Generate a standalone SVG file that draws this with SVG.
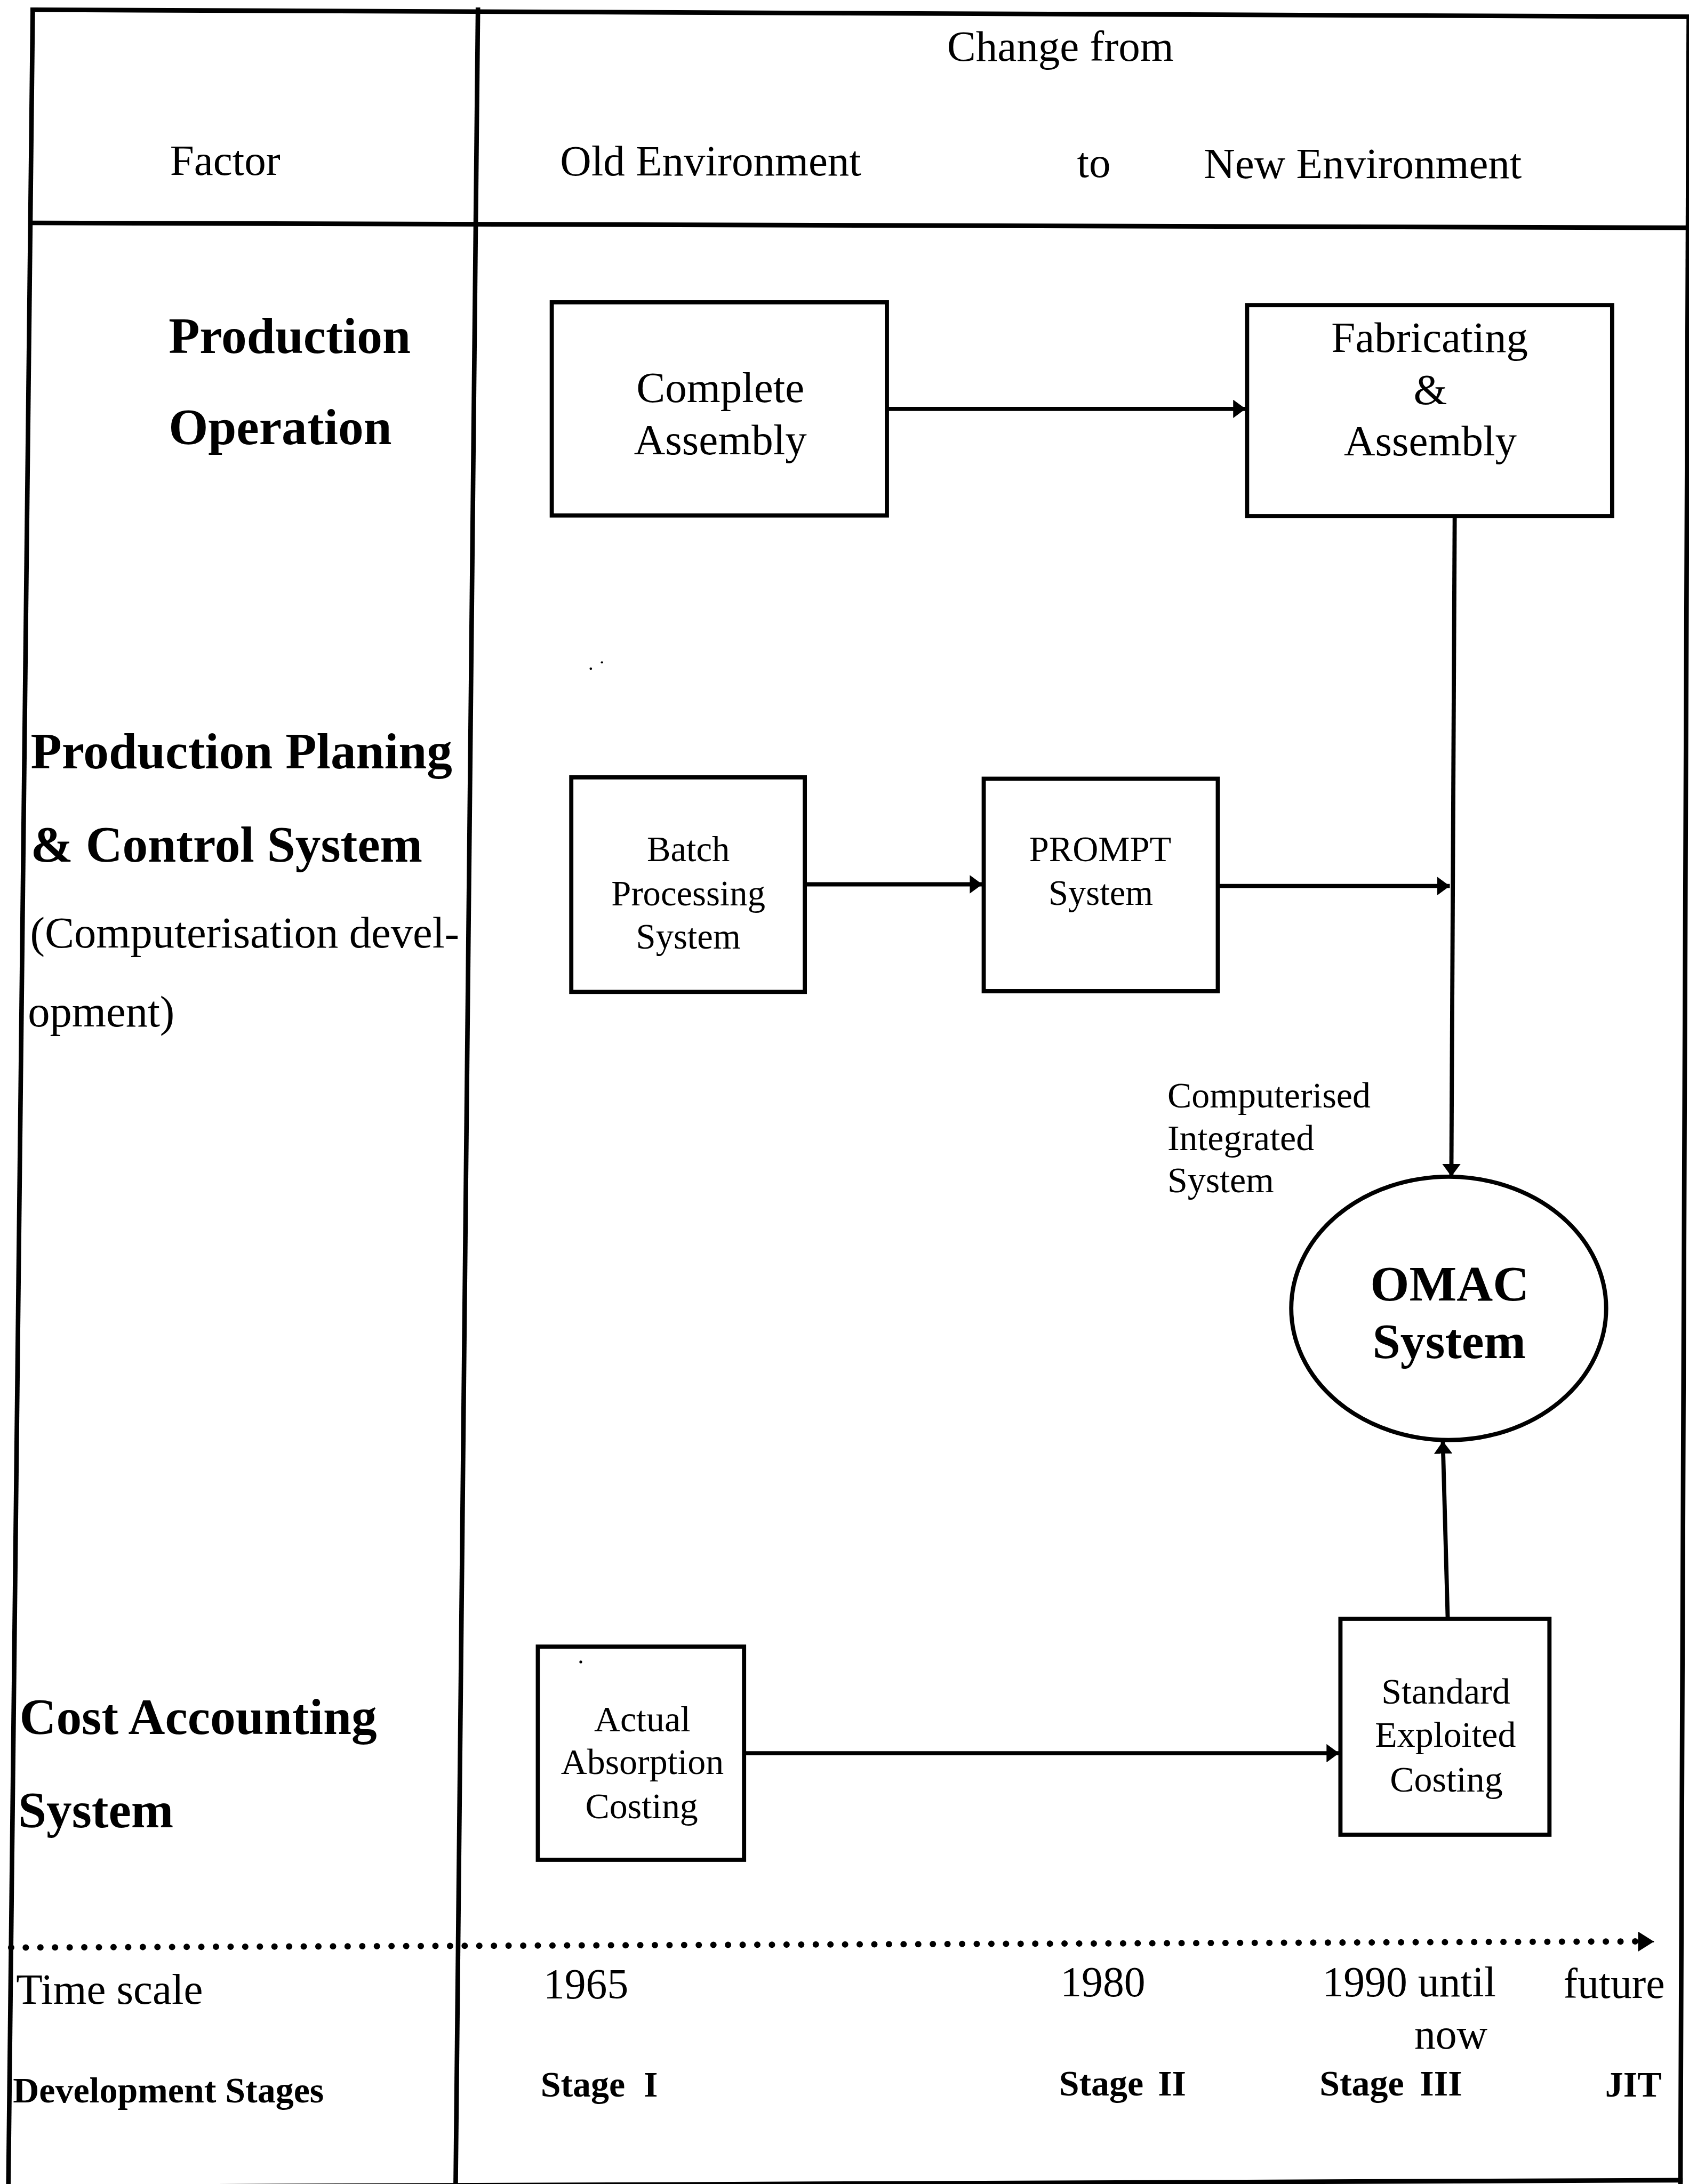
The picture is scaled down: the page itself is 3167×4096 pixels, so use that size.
<svg xmlns="http://www.w3.org/2000/svg" width="3167" height="4096" viewBox="0 0 3167 4096">
  <style>
    .frame { fill: none; stroke: #000; stroke-width: 3.3; stroke-linecap: square; }
    .box { fill: #fff; stroke: #000; stroke-width: 3; }
    .oval { fill: #fff; stroke: #000; stroke-width: 3; }
    .conn { fill: none; stroke: #000; stroke-width: 3; }
    .dots { fill: none; stroke: #000; stroke-width: 4.6; stroke-linecap: round; stroke-dasharray: 0 10.5; }
    text { font-family: "Liberation Serif", "Times New Roman", serif; fill: #000; }
    .hd { font-size: 31px; }
    .lbl { font-size: 31px; text-anchor: middle; }
    .sm { font-size: 25.5px; text-anchor: middle; }
    .md { font-size: 26px; text-anchor: middle; }
    .fac { font-size: 36.5px; font-weight: bold; }
    .sub { font-size: 31.6px; }
    .omac { font-size: 36px; font-weight: bold; text-anchor: middle; }
    .note { font-size: 26px; }
    .yr { font-size: 30.5px; }
    .stg { font-size: 26px; font-weight: bold; }
  </style>
  <defs>
    <marker id="arrow" markerUnits="userSpaceOnUse" markerWidth="9" markerHeight="13.2" viewBox="0 0 9 13.2" refX="9" refY="6.6" orient="auto">
      <path d="M0,0 L9,6.6 L0,13.2 z" fill="#000"/>
    </marker>
    <marker id="arrow-time" markerUnits="userSpaceOnUse" markerWidth="11.4" markerHeight="14.4" viewBox="0 0 11.4 14.4" refX="11.4" refY="7.2" orient="auto">
      <path d="M0,0 L11.4,7.2 L0,14.4 z" fill="#000"/>
    </marker>
  </defs>
  <rect x="0" y="0" width="3167" height="4096" fill="#fff"/>
  <g transform="scale(2.6127)">
    <!-- table frame -->
    <g id="frame">
      <line class="frame" x1="23.5" y1="7" x2="1213" y2="12"/>
      <line class="frame" x1="23.5" y1="160" x2="1213" y2="163.5"/>
      <line class="frame" x1="23.5" y1="7" x2="6" y2="1570"/>
      <line class="frame" x1="343" y1="7" x2="327" y2="1570"/>
      <line class="frame" x1="1212" y1="12" x2="1206" y2="1570"/>
      <line class="frame" x1="6" y1="1570" x2="1206" y2="1565"/>
    </g>

    <!-- header row -->
    <g id="header">
      <text class="lbl" x="761" y="43.6">Change from</text>
      <text class="hd" x="122" y="125.5">Factor</text>
      <text class="hd" x="402" y="126">Old Environment</text>
      <text class="hd" x="773" y="127">to</text>
      <text class="hd" x="864" y="127.8">New Environment</text>
    </g>

    <!-- factor labels -->
    <g id="factor-production-operation">
      <text class="fac" x="121" y="253.5">Production</text>
      <text class="fac" x="121" y="319">Operation</text>
    </g>
    <g id="factor-planning">
      <text class="fac" x="22" y="551.4">Production Planing</text>
      <text class="fac" x="22" y="618.6">&amp; Control System</text>
      <text class="sub" x="21.6" y="680">(Computerisation devel-</text>
      <text class="sub" x="20" y="736.6">opment)</text>
    </g>
    <g id="factor-cost">
      <text class="fac" x="14" y="1244.8">Cost Accounting</text>
      <text class="fac" x="13" y="1311.8">System</text>
    </g>

    <!-- connectors -->
    <g id="connectors">
      <line class="conn" x1="637" y1="293.5" x2="894" y2="293.5" marker-end="url(#arrow)"/>
      <line class="conn" x1="578" y1="634.8" x2="705" y2="634.8" marker-end="url(#arrow)"/>
      <line class="conn" x1="874" y1="636" x2="1040.5" y2="636" marker-end="url(#arrow)"/>
      <line class="conn" x1="1044" y1="371" x2="1041.6" y2="844.5" marker-end="url(#arrow)"/>
      <line class="conn" x1="534" y1="1258.5" x2="961" y2="1258.5" marker-end="url(#arrow)"/>
      <line class="conn" x1="1039" y1="1162" x2="1035.5" y2="1034.5" marker-end="url(#arrow)"/>
    </g>

    <!-- nodes -->
    <g id="node-complete-assembly">
      <rect class="box" x="396" y="217" width="240.5" height="153"/>
      <text class="lbl" x="517" y="288.5">Complete</text>
      <text class="lbl" x="517" y="326">Assembly</text>
    </g>
    <g id="node-fabricating-assembly">
      <rect class="box" x="895" y="219" width="262" height="151.5"/>
      <text class="lbl" x="1026" y="252.8">Fabricating</text>
      <text class="lbl" x="1026.5" y="290">&amp;</text>
      <text class="lbl" x="1026.5" y="327">Assembly</text>
    </g>
    <g id="node-batch">
      <rect class="box" x="410" y="558" width="167.6" height="154"/>
      <text class="sm" x="494" y="618">Batch</text>
      <text class="sm" x="494" y="650">Processing</text>
      <text class="sm" x="494" y="681">System</text>
    </g>
    <g id="node-prompt">
      <rect class="box" x="706" y="559" width="168" height="152.5"/>
      <text class="sm" x="789.6" y="618">PROMPT</text>
      <text class="sm" x="790" y="649.6">System</text>
    </g>
    <g id="node-omac">
      <ellipse class="oval" cx="1039.7" cy="939.2" rx="113" ry="94.5"/>
      <text class="omac" x="1040.4" y="933.5">OMAC</text>
      <text class="omac" x="1040" y="975">System</text>
    </g>
    <g id="node-actual-costing">
      <rect class="box" x="386" y="1182" width="148" height="153"/>
      <text class="md" x="461" y="1242.6">Actual</text>
      <text class="md" x="461" y="1273.5">Absorption</text>
      <text class="md" x="460.5" y="1305">Costing</text>
    </g>
    <g id="node-standard-costing">
      <rect class="box" x="962" y="1162" width="150" height="155"/>
      <text class="md" x="1037.6" y="1223">Standard</text>
      <text class="md" x="1037.4" y="1253.7">Exploited</text>
      <text class="md" x="1038" y="1286">Costing</text>
    </g>

    <!-- label beside the merge line -->
    <g id="label-integrated">
      <text class="note" x="837.8" y="795">Computerised</text>
      <text class="note" x="837.8" y="825.5">Integrated</text>
      <text class="note" x="837.8" y="856">System</text>
    </g>

    <!-- specks -->
    <g id="specks" fill="#000">
      <circle cx="424" cy="480" r="0.9"/>
      <circle cx="432" cy="475.5" r="0.8"/>
      <circle cx="416.8" cy="1193" r="1"/>
    </g>

    <!-- time axis -->
    <g id="time-axis">
      <line class="dots" x1="8" y1="1398" x2="1174" y2="1393.6"/>
      <line x1="1172" y1="1393.7" x2="1187" y2="1393.7" stroke="#000" stroke-width="1" marker-end="url(#arrow-time)"/>
      <text class="hd" x="11.6" y="1438.5">Time scale</text>
      <text class="yr" x="390" y="1434.4">1965</text>
      <text class="yr" x="761" y="1433">1980</text>
      <text class="yr" x="949" y="1433">1990 until</text>
      <text class="yr" x="1122" y="1434">future</text>
      <text class="yr" x="1015" y="1470.7">now</text>
    </g>
    <g id="stages">
      <text class="stg" x="9.3" y="1509">Development Stages</text>
      <text class="stg" y="1505"><tspan x="388">Stage</tspan><tspan x="462">I</tspan></text>
      <text class="stg" y="1504"><tspan x="760">Stage</tspan><tspan x="831">II</tspan></text>
      <text class="stg" y="1504"><tspan x="947">Stage</tspan><tspan x="1019">III</tspan></text>
      <text class="stg" x="1152" y="1505">JIT</text>
    </g>
  </g>
</svg>
